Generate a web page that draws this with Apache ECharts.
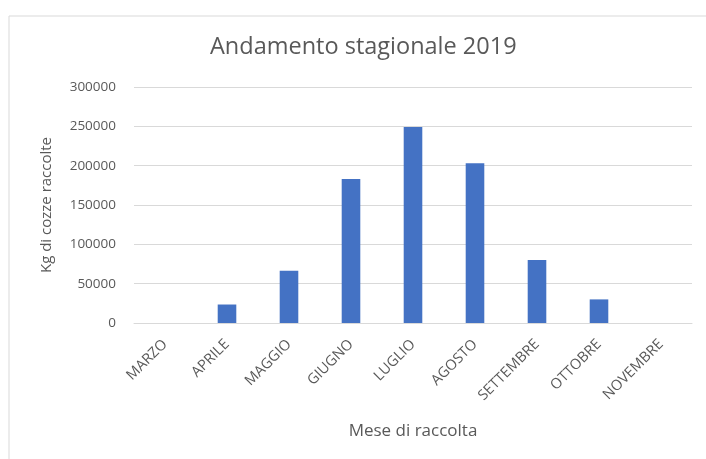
<!DOCTYPE html>
<html><head><meta charset="utf-8">
<script src="https://cdn.jsdelivr.net/npm/echarts@6/dist/echarts.min.js"></script>
<style>html,body{margin:0;padding:0;background:#fff}#c{width:706px;height:459px}</style>
</head><body><div id="c"></div>
<script>
const categories = ["MARZO","APRILE","MAGGIO","GIUGNO","LUGLIO","AGOSTO","SETTEMBRE","OTTOBRE","NOVEMBRE"];
const values = [0, 23500, 66500, 183000, 249000, 203000, 80000, 30000, 0];
const yTicks = [0, 50000, 100000, 150000, 200000, 250000, 300000];
const titleText = "Andamento stagionale 2019";
const yName = "Kg di cozze raccolte";
const xName = "Mese di raccolta";

const font = "'Open Sans', 'Noto Sans', sans-serif";
const chart = echarts.init(document.getElementById('c'), null, {renderer:'canvas'});
chart.setOption({
  animation:false,
  backgroundColor:'#fff',
  graphic:[{type:'rect',shape:{x:9,y:16,width:720,height:460},style:{fill:'none',stroke:'#d9d9d9',lineWidth:1},silent:true}],
  title:{text:titleText,left:205,top:30,textStyle:{fontFamily:font,fontSize:23.5,fontWeight:'normal',color:'#595959'}},
  grid:{left:134,right:14,top:87,bottom:136},
  xAxis:{type:'category',data:categories,
    axisLine:{lineStyle:{color:'#d9d9d9'}},axisTick:{show:false},
    axisLabel:{rotate:45,margin:19,color:'#595959',fontFamily:font,fontSize:14.5,interval:0},
    name:xName,nameLocation:'middle',nameGap:100,
    nameTextStyle:{fontFamily:font,fontSize:17,color:'#595959'}},
  yAxis:{type:'value',min:yTicks[0],max:yTicks[yTicks.length-1],interval:50000,
    axisLine:{show:false},axisTick:{show:false},
    splitLine:{lineStyle:{color:'#d9d9d9'}},
    axisLabel:{margin:18,color:'#595959',fontFamily:font,fontSize:13.5,formatter:function(v){return String(v);}},
    name:yName,nameLocation:'middle',nameGap:80,
    nameTextStyle:{fontFamily:font,fontSize:15,color:'#595959'}},
  series:[{type:'bar',data:values,barWidth:'30%',itemStyle:{color:'#4472C4'}}]
});
</script></body></html>
